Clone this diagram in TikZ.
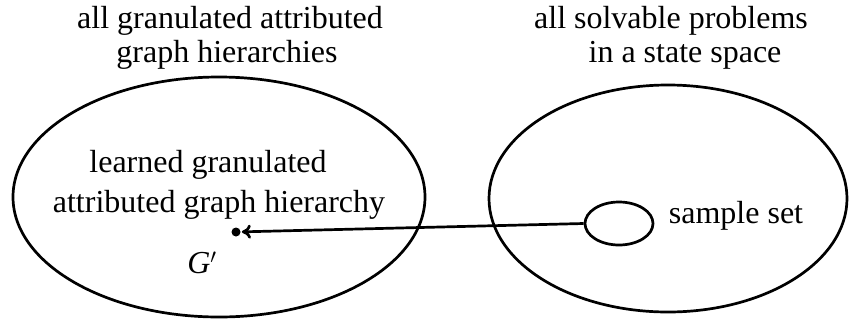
\documentclass[tikz,border=0pt]{standalone}
\usepackage{fontspec}
\setmainfont{Liberation Serif}
\usetikzlibrary{arrows.meta,shapes.geometric}
\begin{document}
\begin{tikzpicture}[x=1pt,y=-1pt,line width=2.7pt,
  txt/.style={font=\fontsize{32}{34}\selectfont,inner sep=0pt,anchor=base},
  setshape/.style={draw,ellipse,inner sep=0pt}]
\useasboundingbox (0,0) rectangle (849,322);
% headings
\node[txt] (h1a) at (230,28) {all granulated attributed};
\node[txt] (h1b) at (227,62) {graph hierarchies};
\node[txt] (h2a) at (671,28) {all solvable problems};
\node[txt] (h2b) at (685,62) {in a state space};
% big sets
\node[setshape,minimum width=412pt,minimum height=240pt] (L) at (219,197) {};
\node[setshape,minimum width=358pt,minimum height=227pt] (R) at (668,198.5) {};
% inner texts
\node[txt] (l1) at (208,172) {learned granulated};
\node[txt] (l2) at (219,212) {attributed graph hierarchy};
\node[txt] (g) at (202,273) {\textit{G}$'$};
\node[txt] (ss) at (736,223) {sample set};
% sample set ellipse and point
\node[setshape,minimum width=68pt,minimum height=43pt] (S) at (619,223.5) {};
\node[circle,fill,inner sep=0pt,minimum size=9pt] (D) at (236,232) {};
\draw[-{Computer Modern Rightarrow[length=9pt,width=14pt]}] (S.west) -- (D);
\end{tikzpicture}
\end{document}
